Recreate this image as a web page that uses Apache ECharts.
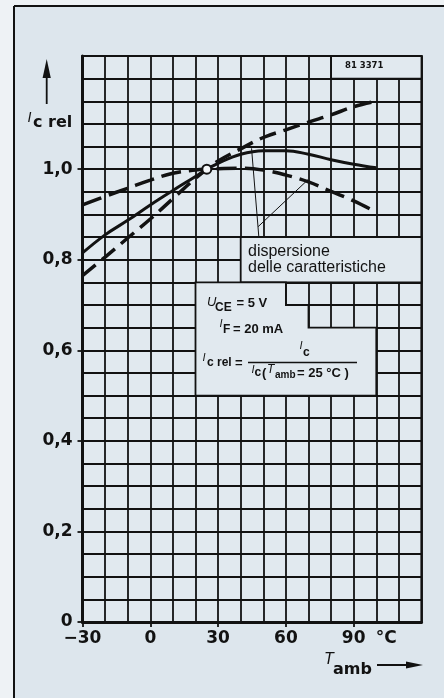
<!DOCTYPE html>
<html>
<head>
<meta charset="utf-8">
<script src="https://cdn.jsdelivr.net/npm/echarts@6/dist/echarts.min.js"></script>
<style>
  html, body { margin: 0; padding: 0; background: #eef2f5; }
  #c { width: 444px; height: 698px; }
</style>
</head>
<body>
<div id="c"></div>
<script>
// Ambient temperature (°C) at which the curves are sampled
const temps = [-30, -20, -10, 0, 10, 20, 25, 30, 40, 50, 60, 70, 80, 90, 100];
// Typical characteristic (solid)
const typical = [0.815, 0.855, 0.887, 0.921, 0.953, 0.984, 1.0, 1.013, 1.033, 1.041, 1.041, 1.033, 1.021, 1.011, 1.003];
// Spread limit: flatter device (dashed, high at low temperature)
const flatSpread = [0.921, 0.940, 0.958, 0.976, 0.991, 0.998, 1.0, 1.001, 1.002, 0.998, 0.987, 0.972, 0.951, 0.930, 0.905];
// Spread limit: steeper device (dashed, low at low temperature)
const steepSpread = [0.765, 0.806, 0.848, 0.890, 0.935, 0.980, 1.0, 1.018, 1.045, 1.070, 1.087, 1.104, 1.120, 1.138, 1.150];
// Normalisation point: Ic(Tamb = 25 °C)
const refPoint = [25, 1.0];
// Labelled ticks
const xTickValues = [-30, 0, 30, 60, 90];
const yTickValues = [0, 0.2, 0.4, 0.6, 0.8, 1.0];

const INK = '#121212';
const PANEL = '#dde6ed';
const PAPER = '#e1e9ef';
const NUM_FONT = '"DejaVu Sans", sans-serif';
const TXT_FONT = '"Liberation Sans", Arial, sans-serif';
const GRID_W = 1.8;

const zip = (xs, ys) => xs.map((x, i) => [x, ys[i]]);

// Text blocks that hide the grid behind them (outlines follow grid lines)
const textBoxes = [
  [[40, 0.85], [120, 0.85], [120, 0.75], [40, 0.75]],
  [[20, 0.75], [60, 0.75], [60, 0.70], [70, 0.70], [70, 0.65], [100, 0.65], [100, 0.50], [20, 0.50]],
  [[80, 1.25], [120, 1.25], [120, 1.20], [80, 1.20]]
];
// Leader lines from the "dispersione" note to the two dashed curves
const leaderA = [[44.8, 1.046], [48.0, 0.852]];
const leaderB = [[69.8, 0.977], [47.7, 0.873]];

function txt(text, x, y, font, align) {
  return {
    type: 'text', z: 50,
    style: {
      text: text, x: x, y: y, font: font, fill: INK,
      textAlign: align || 'left', textVerticalAlign: 'middle',
      align: align || 'left', verticalAlign: 'middle'
    }
  };
}
function seg(x1, y1, x2, y2, w) {
  return { type: 'line', z: 50, shape: { x1, y1, x2, y2 }, style: { stroke: INK, lineWidth: w } };
}
function tri(points) {
  return { type: 'polygon', z: 50, shape: { points }, style: { fill: INK } };
}

const chart = echarts.init(document.getElementById('c'), null, { renderer: 'canvas' });

const option = {
  animation: false,
  backgroundColor: 'transparent',
  grid: {
    left: 82.5, top: 56, width: 339, height: 566,
    show: true, backgroundColor: PAPER, borderColor: INK, borderWidth: 2.2
  },
  xAxis: [
    {
      type: 'value', min: -30, max: 120, interval: 10, position: 'bottom',
      axisLine: { show: false }, axisTick: { show: false }, axisLabel: { show: false },
      splitLine: { show: true, lineStyle: { color: INK, width: GRID_W } }
    },
    {
      type: 'value', min: -30, max: 120, position: 'bottom',
      axisLine: { show: true, onZero: false, lineStyle: { color: INK, width: 3 } },
      axisTick: { show: true, customValues: xTickValues, length: 5, lineStyle: { color: INK, width: GRID_W } },
      splitLine: { show: false },
      axisLabel: {
        customValues: xTickValues.concat([100]),
        margin: 8,
        color: INK, fontFamily: NUM_FONT, fontWeight: 'bold', fontSize: 17,
        formatter: v => v === 100 ? '{u|°C}' : (v < 0 ? '\u2212' + Math.abs(v) : String(v)),
        rich: { u: { padding: [0, 0, 0, 20], color: INK, fontFamily: NUM_FONT, fontWeight: 'bold', fontSize: 17 } }
      }
    }
  ],
  yAxis: [
    {
      type: 'value', min: 0, max: 1.25, interval: 0.05, position: 'left',
      axisLine: { show: false }, axisTick: { show: false }, axisLabel: { show: false },
      splitLine: { show: true, lineStyle: { color: INK, width: GRID_W } }
    },
    {
      type: 'value', min: 0, max: 1.25, position: 'left',
      axisLine: { show: true, onZero: false, lineStyle: { color: INK, width: 3 } },
      axisTick: { show: true, customValues: yTickValues, length: 5, lineStyle: { color: INK, width: GRID_W } },
      splitLine: { show: false },
      axisLabel: {
        customValues: yTickValues,
        margin: 10,
        color: INK, fontFamily: NUM_FONT, fontWeight: 'bold', fontSize: 17,
        formatter: v => v === 0 ? '0' : v.toFixed(1).replace('.', ',')
      }
    }
  ],
  series: [
    {
      type: 'custom', name: 'boxes', z: 3, silent: true,
      xAxisIndex: 0, yAxisIndex: 0,
      data: textBoxes.map((b, i) => [b[0][0], b[0][1], i]),
      renderItem: (params, api) => ({
        type: 'polygon',
        shape: { points: textBoxes[params.dataIndex].map(p => api.coord(p)) },
        style: { fill: PAPER, stroke: INK, lineWidth: GRID_W }
      })
    },
    {
      type: 'line', name: 'typical', z: 5, xAxisIndex: 0, yAxisIndex: 0,
      data: zip(temps, typical), smooth: 0.4, symbol: 'none',
      lineStyle: { color: INK, width: 3 }
    },
    {
      type: 'line', name: 'flatSpread', z: 5, xAxisIndex: 0, yAxisIndex: 0,
      data: zip(temps, flatSpread), smooth: 0.4, symbol: 'none',
      lineStyle: { color: INK, width: 3.5, type: [20, 8] }
    },
    {
      type: 'line', name: 'steepSpread', z: 5, xAxisIndex: 0, yAxisIndex: 0,
      data: zip(temps, steepSpread), smooth: 0.4, symbol: 'none',
      lineStyle: { color: INK, width: 3.5, type: [17, 8] }
    },
    {
      type: 'line', name: 'leaderA', z: 4, xAxisIndex: 0, yAxisIndex: 0,
      data: leaderA, symbol: 'none', lineStyle: { color: INK, width: 1 }
    },
    {
      type: 'line', name: 'leaderB', z: 4, xAxisIndex: 0, yAxisIndex: 0,
      data: leaderB, symbol: 'none', lineStyle: { color: INK, width: 1 }
    },
    {
      type: 'scatter', name: 'ref', z: 8, xAxisIndex: 0, yAxisIndex: 0,
      data: [refPoint], symbol: 'circle', symbolSize: 9,
      itemStyle: { color: '#f3f6f8', borderColor: INK, borderWidth: 2, opacity: 1 }
    }
  ],
  graphic: {
    elements: [
      // panel and its frame
      { type: 'rect', z: -10, shape: { x: 14, y: 6, width: 440, height: 700 }, style: { fill: PANEL } },
      seg(14, 6, 444, 6, 2),
      seg(14, 6, 14, 698, 2),

      // y axis title with arrow
      seg(46.7, 104, 46.7, 72, 1.8),
      tri([[46.7, 59], [42.6, 78], [50.8, 78]]),
      txt('I', 27.5, 118.5, 'italic 14px ' + TXT_FONT),
      txt('c rel', 33, 122.5, 'bold 16px ' + NUM_FONT),

      // x axis title with arrow
      txt('T', 324, 659.5, 'italic 16px ' + TXT_FONT),
      txt('amb', 333, 669.5, 'bold 16px ' + NUM_FONT),
      seg(377, 665, 410, 665, 1.8),
      tri([[423, 665], [406, 661.4], [406, 668.6]]),

      // drawing number
      txt('81 3371', 345, 66, 'bold 8.5px ' + NUM_FONT),

      // spread note
      txt('dispersione', 248, 251.2, '16px ' + TXT_FONT),
      txt('delle caratteristiche', 248, 267.2, '16px ' + TXT_FONT),

      // measurement conditions
      txt('U', 207, 302.8, 'italic 13px ' + TXT_FONT),
      txt('CE', 215, 307.4, 'bold 12px ' + TXT_FONT),
      txt('= 5 V', 236.5, 303.2, 'bold 13px ' + TXT_FONT),

      txt('I', 219.5, 323.5, 'italic 11px ' + TXT_FONT),
      txt('F', 223, 329.7, 'bold 12px ' + TXT_FONT),
      txt('= 20 mA', 233, 329.5, 'bold 13px ' + TXT_FONT),

      txt('I', 202.5, 358, 'italic 11px ' + TXT_FONT),
      txt('c rel', 207, 362.5, 'bold 12px ' + TXT_FONT),
      txt('=', 235, 363, 'bold 13px ' + TXT_FONT),
      seg(248, 362.5, 357, 362.5, 1.3),
      txt('I', 299.5, 346, 'italic 11px ' + TXT_FONT),
      txt('c', 303, 352.5, 'bold 12px ' + TXT_FONT),
      txt('I', 251.5, 369.5, 'italic 11px ' + TXT_FONT),
      txt('c', 254.5, 373, 'bold 12px ' + TXT_FONT),
      txt('(', 262, 373.5, 'bold 13px ' + TXT_FONT),
      txt('T', 267, 370, 'italic 12px ' + TXT_FONT),
      txt('amb', 275, 375, 'bold 10px ' + TXT_FONT),
      txt('= 25 °C )', 297, 373.5, 'bold 13px ' + TXT_FONT)
    ]
  }
};

chart.setOption(option);
</script>
</body>
</html>
